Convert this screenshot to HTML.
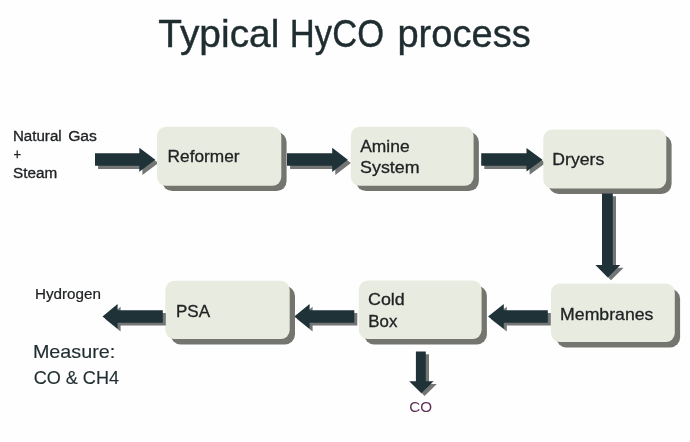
<!DOCTYPE html>
<html><head><meta charset="utf-8"><style>
html,body{margin:0;padding:0;background:#fefefe;}
svg{display:block;font-family:"Liberation Sans",sans-serif;filter:blur(0.3px);}
</style></head><body>
<svg width="690" height="442" viewBox="0 0 690 442">
<rect width="690" height="442" fill="#fefefe"/>
<text x="158.3" y="46.8" font-size="39" fill="#1f2d30" stroke="#1f2d30" stroke-width="0.4" textLength="121.07" lengthAdjust="spacingAndGlyphs">Typical</text>
<text x="289.86" y="46.8" font-size="39" fill="#1f2d30" stroke="#1f2d30" stroke-width="0.4" textLength="94.19" lengthAdjust="spacingAndGlyphs">HyCO</text>
<text x="397.46" y="46.8" font-size="39" fill="#1f2d30" stroke="#1f2d30" stroke-width="0.4" textLength="133.27" lengthAdjust="spacingAndGlyphs">process</text>
<text x="12.96" y="140.5" font-size="14" fill="#202325" stroke="#202325" stroke-width="0.3" textLength="48.69" lengthAdjust="spacingAndGlyphs">Natural</text>
<text x="68.16" y="140.5" font-size="14" fill="#202325" stroke="#202325" stroke-width="0.3" textLength="28.82" lengthAdjust="spacingAndGlyphs">Gas</text>
<text x="13.5" y="159" font-size="14" fill="#202325" stroke="#202325" stroke-width="0.3" textLength="7.58" lengthAdjust="spacingAndGlyphs">+</text>
<text x="13.09" y="177.9" font-size="14" fill="#202325" stroke="#202325" stroke-width="0.3" textLength="44.22" lengthAdjust="spacingAndGlyphs">Steam</text>
<polygon points="98.1,156.4 142.4,156.4 142.4,150.9 158.4,162.9 142.4,174.9 142.4,168.9 98.1,168.9" fill="#737675"/><polygon points="95.0,153.2 139.3,153.2 139.3,147.7 155.3,159.7 139.3,171.7 139.3,165.7 95.0,165.7" fill="#1f3238"/>
<rect x="162.3" y="132.1" width="124.3" height="59.0" rx="10" fill="#74756f"/><rect x="157.0" y="126.8" width="124.3" height="59.0" rx="9" fill="#e8ebdf"/>
<text x="167.63" y="161.5" font-size="17" fill="#202325" stroke="#202325" stroke-width="0.3" textLength="71.97" lengthAdjust="spacingAndGlyphs">Reformer</text>
<polygon points="290.1,156.4 335.3,156.4 335.3,150.9 350.9,163.0 335.3,175.1 335.3,168.9 290.1,168.9" fill="#737675"/><polygon points="287.0,153.2 332.2,153.2 332.2,147.7 347.8,159.8 332.2,171.9 332.2,165.7 287.0,165.7" fill="#1f3238"/>
<rect x="356.1" y="132.1" width="122.8" height="59.0" rx="10" fill="#74756f"/><rect x="350.8" y="126.8" width="122.8" height="59.0" rx="9" fill="#e8ebdf"/>
<text x="360.25" y="151.5" font-size="17" fill="#202325" stroke="#202325" stroke-width="0.3" textLength="49.31" lengthAdjust="spacingAndGlyphs">Amine</text>
<text x="360.11" y="172.8" font-size="17" fill="#202325" stroke="#202325" stroke-width="0.3" textLength="59.48" lengthAdjust="spacingAndGlyphs">System</text>
<polygon points="484.3,156.4 529.6,156.4 529.6,151.1 545.6,162.9 529.6,174.7 529.6,168.9 484.3,168.9" fill="#737675"/><polygon points="481.2,153.2 526.5,153.2 526.5,147.9 542.5,159.7 526.5,171.5 526.5,165.7 481.2,165.7" fill="#1f3238"/>
<rect x="548.6" y="134.9" width="123.0" height="59.0" rx="10" fill="#74756f"/><rect x="543.3" y="129.6" width="123.0" height="59.0" rx="9" fill="#e8ebdf"/>
<text x="552.3" y="164.8" font-size="17" fill="#202325" stroke="#202325" stroke-width="0.3" textLength="51.93" lengthAdjust="spacingAndGlyphs">Dryers</text>
<polygon points="605.2,196.3 616.0,196.3 616.0,267.8 623.5,267.8 611.0,280.2 598.6,267.8 605.2,267.8" fill="#737675"/><polygon points="602.0,193.5 612.8,193.5 612.8,265.0 620.3,265.0 607.8,277.4 595.4,265.0 602.0,265.0" fill="#1f3238"/>
<rect x="556.3" y="288.7" width="123.8" height="58.7" rx="10" fill="#74756f"/><rect x="551.0" y="283.4" width="123.8" height="58.7" rx="9" fill="#e8ebdf"/>
<text x="560.09" y="319.5" font-size="17" fill="#202325" stroke="#202325" stroke-width="0.3" textLength="93.33" lengthAdjust="spacingAndGlyphs">Membranes</text>
<polygon points="550.8,313.0 506.8,313.0 506.8,306.8 491.1,319.2 506.8,331.6 506.8,325.5 550.8,325.5" fill="#737675"/><polygon points="547.8,310.2 503.8,310.2 503.8,304.0 488.1,316.4 503.8,328.8 503.8,322.7 547.8,322.7" fill="#1f3238"/>
<rect x="364.1" y="285.8" width="122.8" height="58.6" rx="10" fill="#74756f"/><rect x="358.8" y="280.5" width="122.8" height="58.6" rx="9" fill="#e8ebdf"/>
<text x="368.0" y="304.7" font-size="17" fill="#202325" stroke="#202325" stroke-width="0.3" textLength="36.76" lengthAdjust="spacingAndGlyphs">Cold</text>
<text x="368.26" y="326.6" font-size="17" fill="#202325" stroke="#202325" stroke-width="0.3" textLength="29.08" lengthAdjust="spacingAndGlyphs">Box</text>
<polygon points="357.3,313.0 312.6,313.0 312.6,306.8 297.3,319.2 312.6,331.6 312.6,325.5 357.3,325.5" fill="#737675"/><polygon points="354.3,310.2 309.6,310.2 309.6,304.0 294.3,316.4 309.6,328.8 309.6,322.7 354.3,322.7" fill="#1f3238"/>
<rect x="170.6" y="286.1" width="124.4" height="58.3" rx="10" fill="#74756f"/><rect x="165.3" y="280.8" width="124.4" height="58.3" rx="9" fill="#e8ebdf"/>
<text x="175.95" y="316.8" font-size="17" fill="#202325" stroke="#202325" stroke-width="0.3" textLength="34.12" lengthAdjust="spacingAndGlyphs">PSA</text>
<polygon points="165.8,313.0 120.6,313.0 120.6,306.8 105.5,319.2 120.6,331.6 120.6,325.5 165.8,325.5" fill="#737675"/><polygon points="162.8,310.2 117.6,310.2 117.6,304.0 102.5,316.4 117.6,328.8 117.6,322.7 162.8,322.7" fill="#1f3238"/>
<text x="34.9" y="299.4" font-size="14" fill="#202325" stroke="#202325" stroke-width="0.2" textLength="65.98" lengthAdjust="spacingAndGlyphs">Hydrogen</text>
<text x="32.9" y="357.9" font-size="17.7" fill="#1f2d30" stroke="#1f2d30" stroke-width="0.15" textLength="82.28" lengthAdjust="spacingAndGlyphs">Measure:</text>
<text x="33.66" y="383.5" font-size="17.7" fill="#1f2d30" stroke="#1f2d30" stroke-width="0.15" textLength="85.38" lengthAdjust="spacingAndGlyphs">CO &amp; CH4</text>
<polygon points="419.1,354.3 429.0,354.3 429.0,384.0 436.8,384.0 424.6,396.0 412.4,384.0 419.1,384.0" fill="#737675"/><polygon points="415.9,351.5 425.8,351.5 425.8,381.2 433.6,381.2 421.4,393.2 409.2,381.2 415.9,381.2" fill="#1f3238"/>
<text x="409.17" y="411.8" font-size="14.5" fill="#5e2d57" textLength="22.82" lengthAdjust="spacingAndGlyphs">CO</text>
</svg>
</body></html>
